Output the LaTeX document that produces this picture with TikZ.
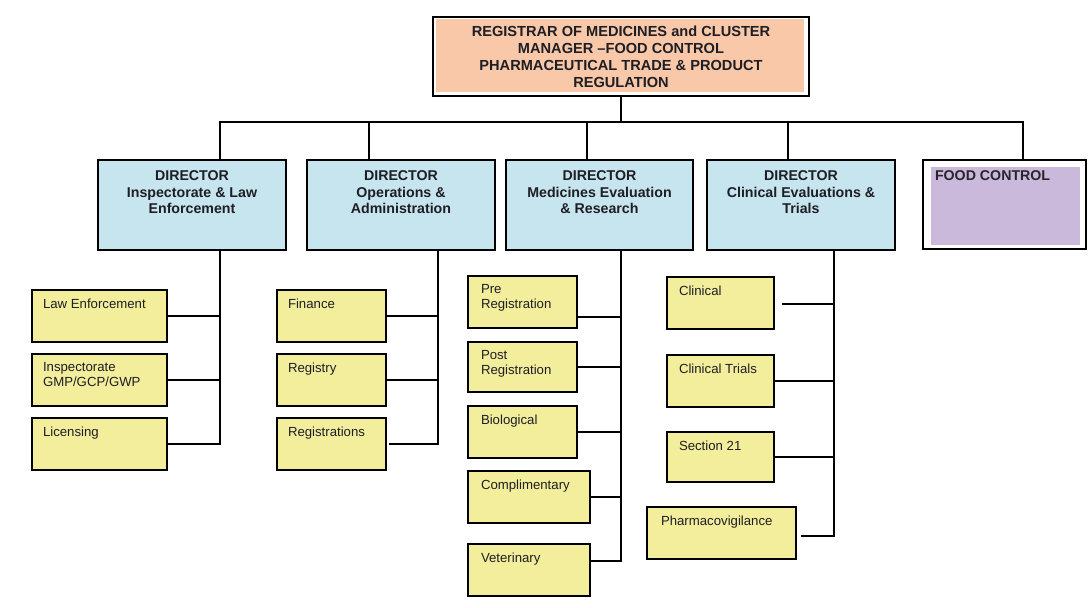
\documentclass[tikz,border=0pt]{standalone}
\usepackage{fontspec}
\setmainfont{Liberation Sans}
\definecolor{peach}{HTML}{F9C8A9}
\definecolor{dirblue}{HTML}{C6E5EE}
\definecolor{subyellow}{HTML}{F3EE9C}
\definecolor{lavender}{HTML}{CAB9DA}
\definecolor{ink}{HTML}{1E1E24}
\begin{document}
\begin{tikzpicture}[x=1pt,y=-1pt,
  every node/.style={inner sep=0pt, outer sep=0pt},
  wire/.style={line width=1.5pt, draw=black},
  boxline/.style={draw=black, line width=1.5pt, anchor=north west},
  headbox/.style={boxline, fill=white, align=center, text=ink,
    font=\fontsize{14.6}{17}\selectfont\bfseries,
    path picture={\fill[peach] ([shift={(3pt,-2pt)}]path picture bounding box.north west)
      rectangle ([shift={(-5pt,4pt)}]path picture bounding box.south east);}},
  dirbox/.style={boxline, fill=dirblue, minimum width=188pt, minimum height=90pt},
  dirtext/.style={anchor=north, align=center, inner ysep=11pt, text=ink,
    font=\fontsize{14.2}{16.2}\selectfont\bfseries},
  foodbox/.style={boxline, fill=white, minimum width=163pt, minimum height=89pt,
    path picture={\fill[lavender] ([shift={(8pt,-7pt)}]path picture bounding box.north west)
      rectangle ([shift={(-6pt,4pt)}]path picture bounding box.south east);}},
  foodtext/.style={anchor=north west, inner xsep=12pt, inner ysep=11pt, text=ink!80!lavender!60!black,
    font=\fontsize{14.2}{16.2}\selectfont\bfseries},
  subbox/.style={boxline, fill=subyellow, minimum height=52pt},
  subtext/.style={anchor=north west, align=left, inner xsep=11pt, inner ysep=8.5pt, text=ink,
    font=\fontsize{13.2}{14.5}\selectfont},
]
\useasboundingbox (0,0) rectangle (1088,608);

% head of the organisation
\node[headbox, minimum width=376pt, minimum height=79pt] (top) at (433,17)
  {REGISTRAR OF MEDICINES and CLUSTER\\MANAGER --FOOD CONTROL\\PHARMACEUTICAL TRADE \& PRODUCT\\REGULATION};

% directorates
\node[dirbox] (d1) at (98,160)  [label={[dirtext]north:DIRECTOR\\Inspectorate \& Law\\Enforcement}] {};
\node[dirbox] (d2) at (307,160) [label={[dirtext]north:DIRECTOR\\Operations \&\\Administration}] {};
\node[dirbox, minimum width=187pt] (d3) at (506,160) [label={[dirtext]north:DIRECTOR\\Medicines Evaluation\\\& Research}] {};
\node[dirbox] (d4) at (707,160) [label={[dirtext]north:DIRECTOR\\Clinical Evaluations \&\\Trials}] {};
\node[foodbox] (food) at (923,160) [label={[foodtext]north west:FOOD CONTROL}] {};

% inspectorate & law enforcement units
\node[subbox, minimum width=135pt] (le)   at (32,290) [label={[subtext]north west:Law Enforcement}] {};
\node[subbox, minimum width=135pt] (insp) at (32,354) [label={[subtext]north west:Inspectorate\\GMP/GCP/GWP}] {};
\node[subbox, minimum width=135pt] (lic)  at (32,418) [label={[subtext]north west:Licensing}] {};

% operations & administration units
\node[subbox, minimum width=109pt] (fin)  at (277,290) [label={[subtext]north west:Finance}] {};
\node[subbox, minimum width=109pt] (reg)  at (277,354) [label={[subtext]north west:Registry}] {};
\node[subbox, minimum width=109pt] (regs) at (277,418) [label={[subtext]north west:Registrations}] {};

% medicines evaluation & research units
\node[subbox, minimum width=109pt] (pre)  at (468,276) [label={[subtext, inner xsep=13pt]north west:Pre\\Registration}] {};
\node[subbox, minimum width=109pt, minimum height=50pt] (post) at (468,342) [label={[subtext, inner xsep=13pt]north west:Post\\Registration}] {};
\node[subbox, minimum width=109pt] (bio)  at (468,406) [label={[subtext, inner xsep=13pt]north west:Biological}] {};
\node[subbox, minimum width=122pt] (comp) at (468,471) [label={[subtext, inner xsep=13pt]north west:Complimentary}] {};
\node[subbox, minimum width=122pt] (vet)  at (468,544) [label={[subtext, inner xsep=13pt]north west:Veterinary}] {};

% clinical evaluations & trials units
\node[subbox, minimum width=107pt] (clin) at (667,277) [label={[subtext, inner xsep=12pt]north west:Clinical}] {};
\node[subbox, minimum width=107pt] (ct)   at (667,355) [label={[subtext, inner xsep=12pt]north west:Clinical Trials}] {};
\node[subbox, minimum width=107pt, minimum height=50pt] (s21)  at (667,432) [label={[subtext, inner xsep=12pt]north west:Section 21}] {};
\node[subbox, minimum width=149pt] (pv)   at (647,507) [label={[subtext, inner xsep=14pt]north west:Pharmacovigilance}] {};

% bus below the head
\coordinate (b1) at (220,122);
\coordinate (b2) at (369,122);
\coordinate (b3) at (587,122);
\coordinate (b4) at (788,122);
\coordinate (b5) at (1023,122);
\draw[wire] (top.south) -- (top.south |- b1);
\draw[wire] (d1.north -| b1) -- (b1) -- (b5) -- (food.north -| b5);
\draw[wire] (b2) -- (d2.north -| b2);
\draw[wire] (b3) -- (d3.north -| b3);
\draw[wire] (b4) -- (d4.north -| b4);

% stems below the directorates
\coordinate (s1) at (220,250);
\coordinate (s2) at (438,250);
\coordinate (s3) at (621,250);
\coordinate (s4) at (834,250);

% inspectorate & law enforcement tree
\draw[wire] (s1) -- (lic.east -| s1) -- (lic.east);
\draw[wire] (le.east) -- (le.east -| s1);
\draw[wire] (insp.east) -- (insp.east -| s1);

% operations & administration tree
\coordinate (regsend) at ([xshift=3pt]regs.east);
\draw[wire] (s2) -- (regsend -| s2) -- (regsend);
\draw[wire] (fin.east) -- (fin.east -| s2);
\draw[wire] (reg.east) -- (reg.east -| s2);

% medicines evaluation & research tree
\coordinate (preend) at ([yshift=-15pt]pre.east);
\coordinate (vetend) at ([yshift=9pt]vet.east);
\draw[wire] (s3) -- (vetend -| s3) -- (vetend);
\draw[wire] (preend) -- (preend -| s3);
\draw[wire] (post.east) -- (post.east -| s3);
\draw[wire] (bio.east) -- (bio.east -| s3);
\draw[wire] (comp.east) -- (comp.east -| s3);

% clinical evaluations & trials tree
\coordinate (clinend) at ([xshift=8pt,yshift=-1pt]clin.east);
\coordinate (pvend) at ([xshift=5pt,yshift=-3pt]pv.east);
\draw[wire] (s4) -- (pvend -| s4) -- (pvend);
\draw[wire] (clinend) -- (clinend -| s4);
\draw[wire] (ct.east) -- (ct.east -| s4);
\draw[wire] (s21.east) -- (s21.east -| s4);
\end{tikzpicture}
\end{document}
